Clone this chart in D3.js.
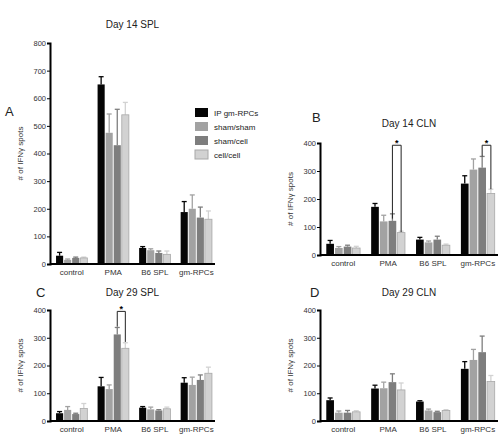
<!DOCTYPE html>
<html><head><meta charset="utf-8">
<script src="https://cdn.jsdelivr.net/npm/d3@7"></script>
<style>body{margin:0;background:#fff}text{font-family:Arial,"Liberation Sans",sans-serif}</style>
</head><body><svg id="c" width="503" height="441"></svg>
<script>
const categories = ["control", "PMA", "B6 SPL", "gm-RPCs"];
const series = ["IP gm-RPCs", "sham/sham", "sham/cell", "cell/cell"];
const colors = ["#050505", "#a2a2a2", "#7e7e7e", "#d2d2d2"];

// values per category, one entry per series
const aVals = [[30, 15, 22, 22], [650, 475, 430, 540], [58, 50, 40, 35], [188, 200, 168, 162]];
const aErr  = [[12, 3, 3, 3], [28, 68, 130, 45], [5, 5, 7, 12], [38, 50, 38, 30]];
const bVals = [[40, 25, 30, 25], [172, 120, 122, 80], [55, 45, 55, 35], [255, 305, 312, 220]];
const bErr  = [[12, 5, 5, 6], [12, 22, 25, 5], [8, 5, 12, 4], [28, 38, 40, 15]];
const cVals = [[28, 40, 25, 45], [125, 115, 312, 262], [48, 42, 38, 44], [138, 130, 148, 172]];
const cErr  = [[6, 12, 3, 18], [32, 15, 25, 20], [4, 8, 3, 6], [18, 28, 18, 22]];
const dVals = [[75, 30, 30, 33], [117, 118, 140, 112], [70, 38, 32, 38], [188, 220, 248, 142]];
const dErr  = [[8, 6, 8, 4], [12, 22, 30, 25], [3, 5, 3, 3], [26, 38, 58, 22]];
const aTicks = [0, 100, 200, 300, 400, 500, 600, 700, 800];
const smallTicks = [0, 100, 200, 300, 400];

const svg = d3.select("#c");

function panel(o) {
  const g = svg.append("g");
  const x = d3.scaleBand().domain(categories).range([o.x0 + 3, o.x1]).paddingInner(0.2).paddingOuter(0.05);
  const xs = d3.scaleBand().domain(d3.range(4)).range([0, x.bandwidth()]).padding(0.12);
  const y = d3.scaleLinear().domain([0, o.max]).range([o.y0, o.y1]);

  categories.forEach((c, ci) => {
    const grp = g.append("g").attr("transform", `translate(${x(c)},0)`);
    o.vals[ci].forEach((v, si) => {
      const bx = xs(si), bw = xs.bandwidth(), cx = bx + bw / 2;
      const top = y(v + o.err[ci][si]);
      grp.append("line").attr("x1", cx).attr("x2", cx).attr("y1", y(v)).attr("y2", top)
        .attr("stroke", colors[si]).attr("stroke-width", 1.3);
      grp.append("line").attr("x1", cx - 2.5).attr("x2", cx + 2.5).attr("y1", top).attr("y2", top)
        .attr("stroke", colors[si]).attr("stroke-width", 1.3);
      grp.append("rect").attr("x", bx).attr("width", bw).attr("y", y(v)).attr("height", y(0) - y(v))
        .attr("fill", colors[si]).attr("stroke", si === 3 ? "#a8a8a8" : "none").attr("stroke-width", 0.8);
    });
    (o.sig || []).filter(s => s.cat === ci).forEach(s => {
      const xa = xs(s.a) + xs.bandwidth() / 2, xb = xs(s.b) + xs.bandwidth() / 2;
      const ys = y(s.at);
      grp.append("path").attr("fill", "none").attr("stroke", "#222").attr("stroke-width", 1)
        .attr("d", `M${xa},${y(s.ya)}V${ys}H${xb}V${y(s.yb)}`);
      grp.append("text").attr("x", (xa + xb) / 2).attr("y", ys + 1).attr("text-anchor", "middle")
        .attr("font-size", 9).attr("font-weight", "bold").text("*");
    });
  });

  const ya = g.append("g").attr("transform", `translate(${o.x0},0)`)
    .call(d3.axisLeft(y).tickValues(o.ticks).tickSize(3).tickPadding(1));
  ya.select(".domain").attr("stroke-width", 2);
  ya.selectAll("text").attr("font-size", 7.5).attr("fill", "#333");
  const xa = g.append("g").attr("transform", `translate(0,${o.y0})`)
    .call(d3.axisBottom(x).tickSize(0).tickPadding(5));
  xa.select(".domain").attr("stroke-width", 2).attr("d", `M${o.x0},0H${o.x1}`);
  xa.selectAll("text").attr("font-size", 8).attr("fill", "#333");

  g.append("text").attr("transform", `translate(${o.x0 - 27},${(o.y0 + o.y1) / 2}) rotate(-90)`)
    .attr("text-anchor", "middle").attr("font-size", 8).attr("fill", "#333").text("# of IFNγ spots");
  g.append("text").attr("x", (o.x0 + o.x1) / 2).attr("y", o.ty).attr("text-anchor", "middle")
    .attr("font-size", 10).attr("fill", "#222").text(o.title);
  g.append("text").attr("x", o.lx).attr("y", o.ly).attr("font-size", 13).attr("fill", "#222").text(o.letter);
}

panel({ x0: 50, x1: 215, y0: 264, y1: 43, max: 800, ticks: aTicks, vals: aVals, err: aErr,
  title: "Day 14 SPL", ty: 28, letter: "A", lx: 5, ly: 116 });
panel({ x0: 320, x1: 498, y0: 255, y1: 143, max: 400, ticks: smallTicks, vals: bVals, err: bErr,
  title: "Day 14 CLN", ty: 127, letter: "B", lx: 312, ly: 122,
  sig: [{ cat: 1, a: 2, b: 3, at: 392, ya: 130, yb: 82 }, { cat: 3, a: 2, b: 3, at: 392, ya: 352, yb: 235 }] });
panel({ x0: 50, x1: 215, y0: 421, y1: 310, max: 400, ticks: smallTicks, vals: cVals, err: cErr,
  title: "Day 29 SPL", ty: 296, letter: "C", lx: 36, ly: 297,
  sig: [{ cat: 1, a: 2, b: 3, at: 395, ya: 340, yb: 285 }] });
panel({ x0: 320, x1: 498, y0: 421, y1: 310, max: 400, ticks: smallTicks, vals: dVals, err: dErr,
  title: "Day 29 CLN", ty: 296, letter: "D", lx: 310, ly: 297 });

const lg = svg.append("g").attr("transform", "translate(195,108)");
series.forEach((s, i) => {
  lg.append("rect").attr("x", 0).attr("y", i * 14).attr("width", 13).attr("height", 9)
    .attr("fill", colors[i]).attr("stroke", i === 3 ? "#a8a8a8" : "none");
  lg.append("text").attr("x", 19).attr("y", i * 14 + 8).attr("font-size", 8).attr("fill", "#222").text(s);
});
</script></body></html>
